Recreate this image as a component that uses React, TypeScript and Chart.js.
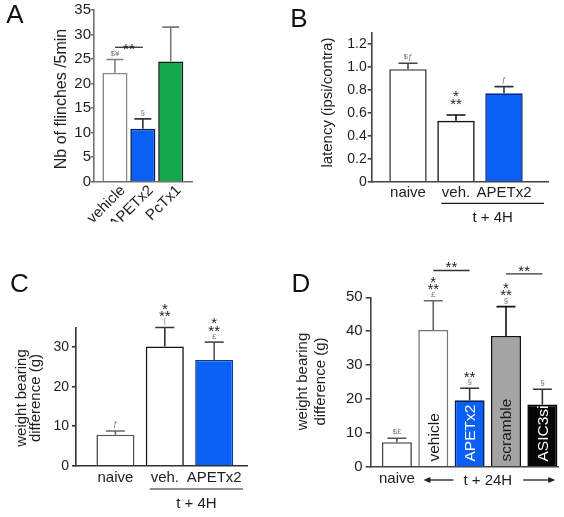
import React, { useEffect, useRef } from 'react';
import { Chart, registerables } from 'chart.js';

Chart.register(...registerables);

const PAGE_W = 564;
const PAGE_H = 517;
const FAMILY = '"Liberation Sans", Arial, Helvetica, sans-serif';
const INK = '#1e1e1e';

const BLUE = '#0a5ff5';
const GREEN = '#15a84c';
const GREY = '#a4a4a4';
const BLACK = '#060606';
const WHITE = '#ffffff';

// ---- A: number of flinches in 5 min
const A_GROUPS = ['vehicle', 'APETx2', 'PcTx1'];
const A_MEAN = [22.2, 10.8, 24.5];
const A_SEM = [2.7, 2.0, 7.0];
const A_Y_TICKS = [0, 5, 10, 15, 20, 25, 30, 35];
const A_MARKS = ['$¥', '§', ''];
const A_STARS = [0, 0, 0];
const A_PAIRS = [{ from: 0, to: 1, at: 27.4, text: '**' }];

// ---- B: withdrawal latency ratio
const B_GROUPS = ['naive', 'veh.', 'APETx2'];
const B_MEAN = [0.98, 0.53, 0.77];
const B_SEM = [0.052, 0.051, 0.058];
const B_Y_TICKS = [0, 0.2, 0.4, 0.6, 0.8, 1.0, 1.2];
const B_Y_TEXT = ['0', '0.2', '0.4', '0.6', '0.8', '1.0', '1.2'];
const B_MARKS = ['$ƒ', '', 'ƒ'];
const B_STARS = [0, 3, 0];

// ---- C: weight bearing, 4 h
const C_GROUPS = ['naive', 'veh.', 'APETx2'];
const C_MEAN = [7.85, 30.2, 26.8];
const C_SEM = [0.95, 4.8, 4.5];
const C_Y_TICKS = [0, 5, 10, 15, 20, 25, 30, 35];
const C_Y_TEXT = ['0', '', '10', '', '20', '', '30', ''];
const C_MARKS = ['ƒ', '|', '£'];
const C_STARS = [0, 3, 3];

// ---- D: weight bearing, 24 h
const D_GROUPS = ['naive', 'vehicle', 'APETx2', 'scramble', 'ASIC3si'];
const D_MEAN = [7.3, 40.4, 19.65, 38.6, 18.4];
const D_SEM = [1.15, 8.6, 3.55, 8.65, 4.5];
const D_Y_TICKS = [0, 10, 20, 30, 40, 50];
const D_MARKS = ['$£', '£', '§', '§', '§'];
const D_STARS = [0, 3, 2, 3, 0];
const D_PAIRS = [
  { from: 1, to: 2, at: 57.9, text: '**' },
  { from: 3, to: 4, at: 56.9, text: '**' },
];

type Pair = { from: number; to: number; at: number; text: string };

interface PanelSpec {
  letter: string;
  letterAt: [number, number];
  area: { left: number; top: number; right: number; bottom: number };
  xRange: [number, number];
  barPct: number;
  groups: string[];
  mean: number[];
  sem: number[];
  yMax: number;
  yTicks: number[];
  yText?: string[];
  fill: string[];
  edge: string[];
  errColor: string[];
  axisColor: string;
  tickFont: number;
  tickLen: number;
  tickPad: number;
  title: string[];
  titleX: number[];
  titleY: number;
  titleSize: number;
  marks: string[];
  stars: number[];
  pairs: Pair[];
  pairLift: number;
  xRot: number;
  xPad: number;
  xShift: number;
  capW: number;
  inside?: boolean[];
  insideColor?: string[];
  group?: { text: string; from: number; lineDy: number; textDy: number };
  arrows?: { text: string; from: number; to: number; dy: number };
}

function textAt(ctx: CanvasRenderingContext2D, text: string, x: number, y: number, font: string, color: string, align: CanvasTextAlign = 'center') {
  ctx.save();
  ctx.font = font;
  ctx.fillStyle = color;
  ctx.textAlign = align;
  ctx.textBaseline = 'alphabetic';
  const m = ctx.measureText(text);
  ctx.fillText(text, x, y + (m.actualBoundingBoxAscent - m.actualBoundingBoxDescent) / 2);
  ctx.restore();
}

function arrow(ctx: CanvasRenderingContext2D, x0: number, x1: number, y: number) {
  const dir = Math.sign(x1 - x0);
  ctx.save();
  ctx.strokeStyle = INK;
  ctx.fillStyle = INK;
  ctx.lineWidth = 1.3;
  ctx.beginPath();
  ctx.moveTo(x0, y);
  ctx.lineTo(x1 - dir * 5, y);
  ctx.stroke();
  ctx.beginPath();
  ctx.moveTo(x1, y);
  ctx.lineTo(x1 - dir * 7, y - 3);
  ctx.lineTo(x1 - dir * 7, y + 3);
  ctx.closePath();
  ctx.fill();
  ctx.restore();
}

function makeDecor(s: PanelSpec) {
  return {
    id: 'panelDecor',
    afterDatasetsDraw(chart: any) {
      const ctx: CanvasRenderingContext2D = chart.ctx;
      const y = chart.scales.y;
      const bars = chart.getDatasetMeta(0).data;
      // upward SEM whiskers with caps
      bars.forEach((bar: any, i: number) => {
        const top = y.getPixelForValue(s.mean[i]);
        const cap = y.getPixelForValue(s.mean[i] + s.sem[i]);
        ctx.save();
        ctx.strokeStyle = s.errColor[i];
        ctx.lineWidth = 1.6;
        ctx.beginPath();
        ctx.moveTo(bar.x, top);
        ctx.lineTo(bar.x, cap);
        ctx.moveTo(bar.x - s.capW / 2, cap);
        ctx.lineTo(bar.x + s.capW / 2, cap);
        ctx.stroke();
        ctx.restore();
      });
    },
    afterDraw(chart: any) {
      const ctx: CanvasRenderingContext2D = chart.ctx;
      const y = chart.scales.y;
      const area = chart.chartArea;
      const bars = chart.getDatasetMeta(0).data;
      const starFont = `15px ${FAMILY}`;
      const markFont = `8px ${FAMILY}`;
      const labelFont = `15px ${FAMILY}`;

      // significance marks above each bar
      bars.forEach((bar: any, i: number) => {
        const cap = y.getPixelForValue(s.mean[i] + s.sem[i]);
        if (s.marks[i]) textAt(ctx, s.marks[i], bar.x, cap - 6, markFont, '#777');
        if (s.stars[i] >= 2) textAt(ctx, '**', bar.x, cap - 13.5, starFont, INK);
        if (s.stars[i] === 3) textAt(ctx, '*', bar.x, cap - 21, starFont, INK);
      });

      // comparison brackets
      s.pairs.forEach((p) => {
        const ly = y.getPixelForValue(p.at);
        const x0 = bars[p.from].x;
        const x1 = bars[p.to].x;
        ctx.save();
        ctx.strokeStyle = '#333';
        ctx.lineWidth = 1.3;
        ctx.beginPath();
        ctx.moveTo(x0, ly);
        ctx.lineTo(x1, ly);
        ctx.stroke();
        ctx.restore();
        textAt(ctx, p.text, (x0 + x1) / 2, ly - s.pairLift, starFont, INK);
      });

      // panel letter
      textAt(ctx, s.letter, s.letterAt[0], s.letterAt[1], `26px ${FAMILY}`, '#111');

      // y axis title
      s.title.forEach((line, i) => {
        ctx.save();
        ctx.translate(s.titleX[i], s.titleY);
        ctx.rotate(-Math.PI / 2);
        textAt(ctx, line, 0, 0, `${s.titleSize}px ${FAMILY}`, INK);
        ctx.restore();
      });

      // labels written inside the bars
      if (s.inside) {
        bars.forEach((bar: any, i: number) => {
          if (!s.inside![i]) return;
          ctx.save();
          ctx.translate(bar.x, area.bottom - 5.5);
          ctx.rotate(-Math.PI / 2);
          textAt(ctx, s.groups[i], 0, 0, `15.5px ${FAMILY}`, s.insideColor![i], 'left');
          ctx.restore();
        });
      }

      // treatment time under a rule
      if (s.group) {
        const g = s.group;
        const b = bars[g.from];
        const x0 = b.x - b.width / 2 + 4;
        const x1 = area.right - 4;
        const ly = area.bottom + g.lineDy;
        ctx.save();
        ctx.strokeStyle = INK;
        ctx.lineWidth = 1.2;
        ctx.beginPath();
        ctx.moveTo(x0, ly);
        ctx.lineTo(x1, ly);
        ctx.stroke();
        ctx.restore();
        textAt(ctx, g.text, (x0 + x1) / 2, area.bottom + g.textDy, labelFont, INK);
      }

      // treatment time between arrows
      if (s.arrows) {
        const a = s.arrows;
        const cx = (bars[a.from].x + bars[a.to].x) / 2;
        const cy = area.bottom + a.dy;
        ctx.save();
        ctx.font = labelFont;
        const half = ctx.measureText(a.text).width / 2;
        ctx.restore();
        textAt(ctx, a.text, cx, cy, labelFont, INK);
        arrow(ctx, cx - half - 10, cx - half - 40, cy);
        arrow(ctx, cx + half + 11, cx + half + 43, cy);
      }
    },
  };
}

function buildConfig(s: PanelSpec): any {
  const Y_W = 40;
  const X_H = 40;
  return {
    type: 'bar',
    data: {
      datasets: [
        {
          data: s.mean.map((v, i) => ({ x: i, y: v })),
          backgroundColor: s.fill,
          borderColor: s.edge,
          borderWidth: 1.6,
          borderSkipped: 'start',
          categoryPercentage: 1,
          barPercentage: s.barPct,
        },
      ],
    },
    options: {
      responsive: false,
      animation: false,
      devicePixelRatio: 1,
      events: [],
      layout: {
        padding: {
          left: s.area.left - Y_W,
          top: s.area.top,
          right: PAGE_W - s.area.right,
          bottom: PAGE_H - s.area.bottom - X_H,
        },
      },
      plugins: { legend: { display: false }, tooltip: { enabled: false } },
      scales: {
        x: {
          type: 'linear',
          offset: false,
          bounds: 'data',
          min: s.xRange[0],
          max: s.xRange[1],
          afterBuildTicks: (sc: any) => {
            sc.ticks = s.groups.map((_, i) => ({ value: i }));
          },
          afterFit: (sc: any) => {
            sc.height = X_H;
            sc.paddingLeft = 0;
            sc.paddingRight = 0;
          },
          grid: { display: false, drawTicks: false, offset: false },
          border: { display: true, color: s.axisColor, width: 1.6, z: 1 },
          ticks: {
            autoSkip: false,
            minRotation: s.xRot,
            maxRotation: s.xRot,
            padding: s.xPad,
            labelOffset: s.xShift,
            color: INK,
            font: { family: FAMILY, size: 15 },
            callback: (v: number) => (s.inside && s.inside[v] ? '' : s.groups[v] ?? ''),
          },
        },
        y: {
          min: 0,
          max: s.yMax,
          afterBuildTicks: (sc: any) => {
            sc.ticks = s.yTicks.map((v) => ({ value: v }));
          },
          afterFit: (sc: any) => {
            sc.width = Y_W;
            sc.paddingTop = 0;
            sc.paddingBottom = 0;
          },
          grid: {
            drawOnChartArea: false,
            drawTicks: true,
            tickLength: s.tickLen,
            color: s.axisColor,
            lineWidth: 1.6,
          },
          border: { display: true, color: s.axisColor, width: 1.6 },
          ticks: {
            padding: s.tickPad,
            color: INK,
            font: { family: FAMILY, size: s.tickFont },
            callback: (v: number, i: number) => (s.yText ? s.yText[i] : String(v)),
          },
        },
      },
    },
    plugins: [makeDecor(s)],
  };
}

const PANELS: PanelSpec[] = [
  {
    letter: 'A',
    letterAt: [15, 14],
    area: { left: 94, top: 10, right: 192, bottom: 181.7 },
    xRange: [-0.751, 2.762],
    barPct: 0.9,
    groups: A_GROUPS,
    mean: A_MEAN,
    sem: A_SEM,
    yMax: 35,
    yTicks: A_Y_TICKS,
    fill: [WHITE, BLUE, GREEN],
    edge: ['#8a8a8a', '#0b1d4a', '#0d1a10'],
    errColor: ['#808080', '#333333', '#7a7a7a'],
    axisColor: '#707070',
    tickFont: 15,
    tickLen: 3,
    tickPad: 0,
    title: ['Nb of flinches /5min'],
    titleX: [60],
    titleY: 99,
    titleSize: 16,
    marks: A_MARKS,
    stars: A_STARS,
    pairs: A_PAIRS,
    pairLift: 0.5,
    xRot: 45,
    xPad: 0,
    xShift: 8,
    capW: 17,
  },
  {
    letter: 'B',
    letterAt: [299, 17.5],
    area: { left: 371.7, top: 32.5, right: 548, bottom: 181.7 },
    xRange: [-0.756, 2.917],
    barPct: 0.78,
    groups: B_GROUPS,
    mean: B_MEAN,
    sem: B_SEM,
    yMax: 1.3,
    yTicks: B_Y_TICKS,
    yText: B_Y_TEXT,
    fill: [WHITE, WHITE, BLUE],
    edge: ['#3a3a3a', '#111111', '#0a2a80'],
    errColor: ['#444444', '#111111', '#333333'],
    axisColor: '#444444',
    tickFont: 14,
    tickLen: 4,
    tickPad: 1,
    title: ['latency (ipsi/contra)'],
    titleX: [327.5],
    titleY: 102.6,
    titleSize: 15,
    marks: B_MARKS,
    stars: B_STARS,
    pairs: [],
    pairLift: 0,
    xRot: 0,
    xPad: 2,
    xShift: 0,
    capW: 19,
    group: { text: 't + 4H', from: 1, lineDy: 21.6, textDy: 35 },
  },
  {
    letter: 'C',
    letterAt: [19.5, 282.5],
    area: { left: 76, top: 327.5, right: 247, bottom: 465.7 },
    xRange: [-0.798, 2.664],
    barPct: 0.77,
    groups: C_GROUPS,
    mean: C_MEAN,
    sem: C_SEM,
    yMax: 35,
    yTicks: C_Y_TICKS,
    yText: C_Y_TEXT,
    fill: [WHITE, WHITE, BLUE],
    edge: ['#555555', '#111111', '#0a3aa0'],
    errColor: ['#666666', '#333333', '#555555'],
    axisColor: '#333333',
    tickFont: 14,
    tickLen: 4,
    tickPad: 3,
    title: ['weight bearing', 'difference (g)'],
    titleX: [21.7, 36.3],
    titleY: 398,
    titleSize: 15,
    marks: C_MARKS,
    stars: C_STARS,
    pairs: [],
    pairLift: 0,
    xRot: 0,
    xPad: 3,
    xShift: 0,
    capW: 19,
    group: { text: 't + 4H', from: 1, lineDy: 23.3, textDy: 37.6 },
  },
  {
    letter: 'D',
    letterAt: [301, 282.5],
    area: { left: 370.7, top: 297.3, right: 558, bottom: 467 },
    xRange: [-0.72, 4.43],
    barPct: 0.825,
    groups: D_GROUPS,
    mean: D_MEAN,
    sem: D_SEM,
    yMax: 50,
    yTicks: D_Y_TICKS,
    fill: [WHITE, WHITE, BLUE, GREY, BLACK],
    edge: ['#444444', '#777777', '#0a1f55', '#111111', '#000000'],
    errColor: ['#555555', '#666666', '#333333', '#111111', '#333333'],
    axisColor: '#444444',
    tickFont: 15,
    tickLen: 5,
    tickPad: 3,
    title: ['weight bearing', 'difference (g)'],
    titleX: [302.5, 320.8],
    titleY: 381.5,
    titleSize: 15,
    marks: D_MARKS,
    stars: D_STARS,
    pairs: D_PAIRS,
    pairLift: 5,
    xRot: 0,
    xPad: 3,
    xShift: 0,
    capW: 19,
    inside: [false, true, true, true, true],
    insideColor: ['', '#1a1a1a', '#ffffff', '#1a1a1a', '#ffffff'],
    arrows: { text: 't + 24H', from: 1, to: 4, dy: 13 },
  },
];

function Panel({ spec }: { spec: PanelSpec }) {
  const ref = useRef<HTMLCanvasElement>(null);
  useEffect(() => {
    const chart = new Chart(ref.current as HTMLCanvasElement, buildConfig(spec));
    return () => chart.destroy();
  }, [spec]);
  return (
    <canvas
      ref={ref}
      width={PAGE_W}
      height={PAGE_H}
      style={{ position: 'absolute', left: 0, top: 0, width: PAGE_W, height: PAGE_H }}
    />
  );
}

export default function App() {
  return (
    <div
      style={{
        position: 'absolute',
        left: 0,
        top: 0,
        width: PAGE_W,
        height: PAGE_H,
        background: '#ffffff',
        overflow: 'hidden',
      }}
    >
      {PANELS.map((p) => (
        <Panel key={p.letter} spec={p} />
      ))}
    </div>
  );
}
